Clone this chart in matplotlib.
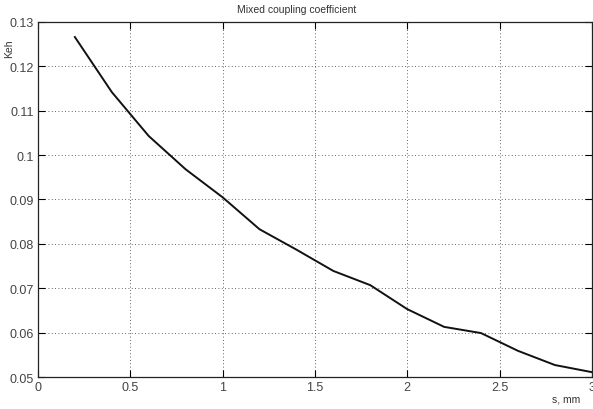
import numpy as np
import matplotlib
matplotlib.use('Agg')
import matplotlib.pyplot as plt

plt.rcParams['font.family'] = ['Liberation Sans', 'DejaVu Sans']

# values
s_mm = [0.2, 0.4, 0.6, 0.8, 1.0, 1.2, 1.4, 1.6, 1.8, 2.0, 2.2, 2.4, 2.6, 2.8, 3.0]
keh = [0.1266, 0.1142, 0.1043, 0.0968, 0.0905, 0.0833, 0.0787, 0.0739, 0.0707,
       0.0653, 0.0613, 0.0599, 0.0559, 0.0527, 0.0511]
xticks = [0, 0.5, 1, 1.5, 2, 2.5, 3]
xticklabels = ['0', '0.5', '1', '1.5', '2', '2.5', '3']
yticks = [0.05, 0.06, 0.07, 0.08, 0.09, 0.1, 0.11, 0.12, 0.13]
yticklabels = ['0.05', '0.06', '0.07', '0.08', '0.09', '0.1', '0.11', '0.12', '0.13']

fig = plt.figure(figsize=(5.93, 4.10), dpi=100)
ax = fig.add_axes([0.064, 0.078, 0.934, 0.866])

ax.plot(s_mm, keh, color='#111111', linewidth=1.4)

ax.set_xlim(0, 3)
ax.set_ylim(0.05, 0.13)
ax.set_xticks(xticks)
ax.set_xticklabels(xticklabels)
ax.set_yticks(yticks)
ax.set_yticklabels(yticklabels)
ax.tick_params(direction='in', top=True, right=True, length=5, width=0.8,
               labelsize=9, labelcolor='#444444', pad=3)
ax.grid(True, color='#333333', linestyle=(0, (1, 3)), linewidth=0.6)
for sp in ax.spines.values():
    sp.set_linewidth(0.9)
    sp.set_color('#222222')

fig.text(0.5, 0.975, 'Mixed coupling coefficient', ha='center', va='center',
         fontsize=7.5, color='#333333')
fig.text(0.015, 0.88, 'Keh', ha='center', va='center', rotation=90,
         fontsize=7.5, color='#333333')
fig.text(0.955, 0.025, 's, mm', ha='center', va='center',
         fontsize=7.5, color='#333333')

fig.savefig('out.png', dpi=100)
